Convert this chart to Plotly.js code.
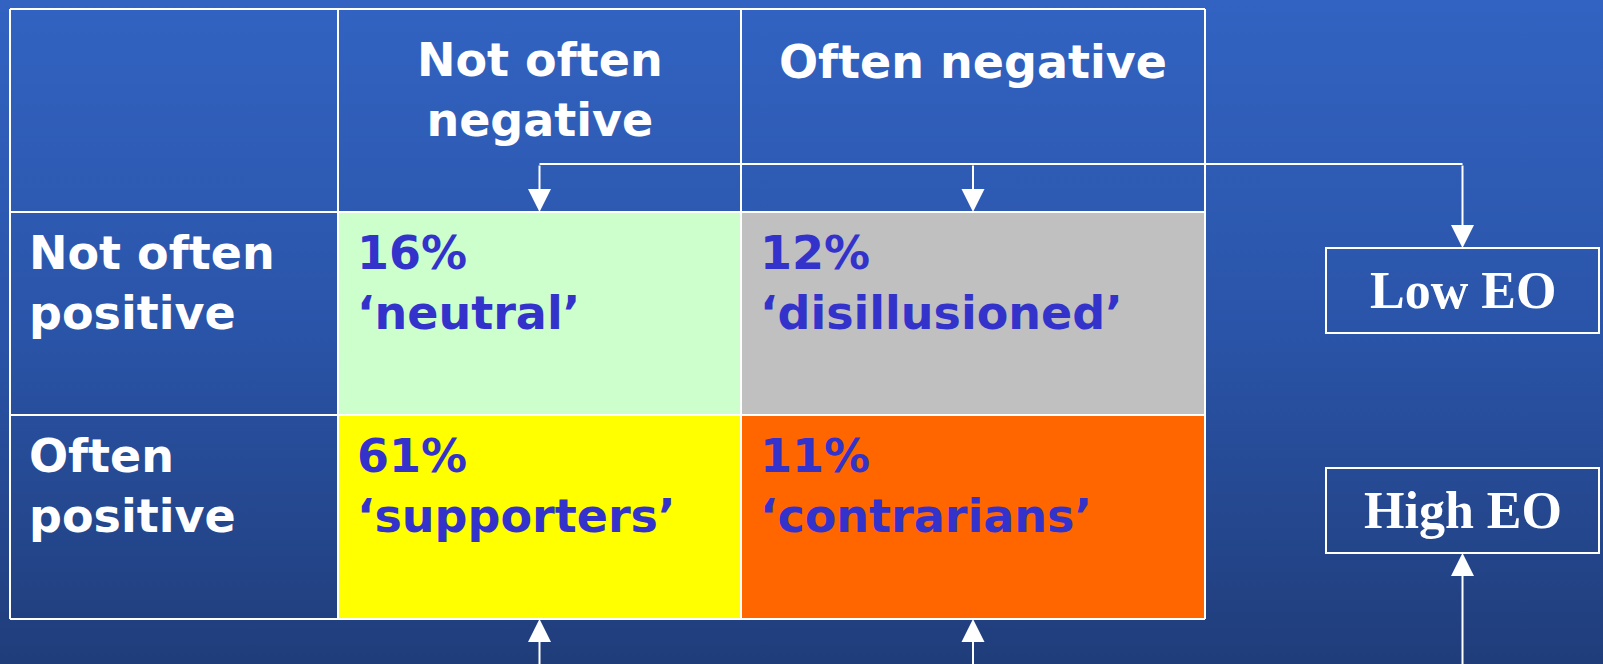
<!DOCTYPE html>
<html>
<head>
<meta charset="utf-8">
<script src="https://cdn.plot.ly/plotly-3.0.1.min.js"></script>
<style>
  html, body { margin: 0; padding: 0; }
  body { width: 1603px; height: 664px; overflow: hidden;
         background: linear-gradient(to bottom, #3263c2 0%, #2a54a8 50%, #203d7a 100%); }
  #chart { width: 1603px; height: 664px; }
</style>
</head>
<body>
<div id="chart"></div>
<script>
// table content
var colLabels = ["Not often<br>negative", "Often negative"];
var rowLabels = ["Not often<br>positive", "Often<br>positive"];
var shares = [[16, 12], [61, 11]];
var segments = [["neutral", "disillusioned"], ["supporters", "contrarians"]];
var eoLabels = ["Low EO", "High EO"];

// styles
var cellColors = [["#ccffcc", "#c0c0c0"], ["#ffff00", "#ff6600"]];
var textBlue = "#3333cc";
var sans = {family: "DejaVu Sans", size: 46, color: "white", weight: "bold"};

// grid geometry (axis units = pixels)
var colEdges = [10, 338, 741, 1205];
var rowEdges = [9, 212, 415, 619];
var eoX = [1326, 1599];
var eoY = [[248, 333], [468, 553]];
var linkY = 164;

var shapes = [];
var annotations = [];

// coloured cells
for (var r = 0; r < 2; r++) {
  for (var c = 0; c < 2; c++) {
    shapes.push({type: "rect", xref: "x", yref: "y", layer: "below",
      x0: colEdges[c + 1], x1: colEdges[c + 2], y0: rowEdges[r + 1], y1: rowEdges[r + 2],
      fillcolor: cellColors[r][c], line: {width: 0}});
    annotations.push({xref: "x", yref: "y", x: colEdges[c + 1] + 17, y: rowEdges[r + 1] + 71,
      xanchor: "left", yanchor: "middle", align: "left", showarrow: false,
      text: shares[r][c] + "%<br>\u2018" + segments[r][c] + "\u2019",
      font: Object.assign({}, sans, {color: textBlue})});
  }
}

// grid lines
var white = {color: "white", width: 2};
colEdges.forEach(function (x) {
  shapes.push({type: "line", xref: "x", yref: "y", x0: x, x1: x, y0: rowEdges[0], y1: rowEdges[3], line: white});
});
rowEdges.forEach(function (y) {
  shapes.push({type: "line", xref: "x", yref: "y", x0: colEdges[0], x1: colEdges[3], y0: y, y1: y, line: white});
});

// header and row labels
colLabels.forEach(function (t, i) {
  var single = t.indexOf("<br>") < 0;
  annotations.push({xref: "x", yref: "y", x: (colEdges[i + 1] + colEdges[i + 2]) / 2,
    y: single ? 62 : 90, xanchor: "center", yanchor: "middle", align: "center",
    showarrow: false, text: t, font: sans});
});
rowLabels.forEach(function (t, i) {
  annotations.push({xref: "x", yref: "y", x: 27, y: rowEdges[i + 1] + 71,
    xanchor: "left", yanchor: "middle", align: "left", showarrow: false, text: t, font: sans});
});

// EO boxes
var eoCx = (eoX[0] + eoX[1]) / 2;
eoLabels.forEach(function (t, i) {
  shapes.push({type: "rect", xref: "x", yref: "y", x0: eoX[0], x1: eoX[1], y0: eoY[i][0], y1: eoY[i][1],
    line: white, fillcolor: "rgba(0,0,0,0)"});
  annotations.push({xref: "x", yref: "y", x: eoCx, y: (eoY[i][0] + eoY[i][1]) / 2,
    xanchor: "center", yanchor: "middle", showarrow: false, text: "<b>" + t + "</b>",
    font: {family: "Liberation Serif", size: 52, color: "white"}});
});

// connectors
var colCx = [(colEdges[1] + colEdges[2]) / 2, (colEdges[2] + colEdges[3]) / 2];
var targetsX = [colCx[0], colCx[1], eoCx];
shapes.push({type: "line", xref: "x", yref: "y", x0: targetsX[0], x1: targetsX[2], y0: linkY, y1: linkY, line: white});
function arrow(x, yFrom, yTo) {
  annotations.push({xref: "x", yref: "y", axref: "x", ayref: "y", x: x, y: yTo, ax: x, ay: yFrom,
    text: "", showarrow: true, arrowhead: 2, arrowsize: 2.3, arrowwidth: 2, arrowcolor: "white", standoff: 0});
}
arrow(targetsX[0], linkY, rowEdges[1]);
arrow(targetsX[1], linkY, rowEdges[1]);
arrow(targetsX[2], linkY, eoY[0][0]);
arrow(targetsX[0], 680, rowEdges[3]);
arrow(targetsX[1], 680, rowEdges[3]);
arrow(targetsX[2], 680, eoY[1][1]);

var layout = {
  width: 1603, height: 664,
  margin: {l: 0, r: 0, t: 0, b: 0},
  paper_bgcolor: "rgba(0,0,0,0)", plot_bgcolor: "rgba(0,0,0,0)",
  xaxis: {range: [0, 1603], visible: false, fixedrange: true},
  yaxis: {range: [664, 0], visible: false, fixedrange: true},
  showlegend: false,
  shapes: shapes,
  annotations: annotations
};

Plotly.newPlot("chart", [], layout, {staticPlot: true});
</script>
</body>
</html>
